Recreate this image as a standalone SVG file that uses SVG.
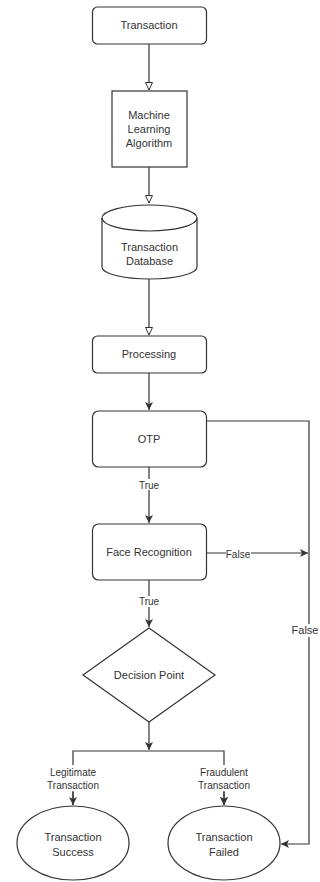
<svg xmlns="http://www.w3.org/2000/svg" width="320" height="882" viewBox="0 0 320 882">
<style>
.s{fill:#fff;stroke:#333;stroke-width:1.2}
.t{font-family:"Liberation Sans",Arial,sans-serif;font-size:11px;fill:#333;text-anchor:middle}
.l{font-family:"Liberation Sans",Arial,sans-serif;font-size:10px;fill:#333;text-anchor:middle}
.e{fill:none;stroke:#333;stroke-width:1.2}
</style>
<defs>
<marker id="h" markerWidth="10" markerHeight="10" refX="8" refY="4" orient="auto" markerUnits="userSpaceOnUse">
<path d="M0.5,0.5 L8,4 L0.5,7.5 Z" fill="#fff" stroke="#333" stroke-width="1"/>
</marker>
<marker id="f" markerWidth="10" markerHeight="10" refX="8" refY="4" orient="auto" markerUnits="userSpaceOnUse">
<path d="M0,0 L8,4 L0,8 L2,4 Z" fill="#333"/>
</marker>
</defs>
<rect width="320" height="882" fill="#fff"/>
<g id="connectors">
<path class="e" d="M149,44 V90" marker-end="url(#h)"/>
<path class="e" d="M149,167 V203" marker-end="url(#h)"/>
<path class="e" d="M149,279 V335" marker-end="url(#h)"/>
<path class="e" d="M149,373 V410" marker-end="url(#f)"/>
<path class="e" d="M149,467 V523" marker-end="url(#f)"/>
<rect x="137" y="479" width="24" height="11" fill="#fff"/>
<text class="l" x="149" y="489">True</text>
<path class="e" d="M206,553 H308" marker-end="url(#f)"/>
<rect x="226" y="549" width="25" height="11" fill="#fff"/>
<text class="l" x="238" y="558">False</text>
<path class="e" d="M149,580 V627" marker-end="url(#f)"/>
<rect x="137" y="596" width="24" height="11" fill="#fff"/>
<text class="l" x="149" y="605">True</text>
<path class="e" d="M206,421 H309 V844 H281" marker-end="url(#f)"/>
<rect x="291" y="624" width="29" height="13" fill="#fff"/>
<text class="t" x="305" y="634">False</text>
<path class="e" d="M149,722 V750" marker-end="url(#f)"/>
<path class="e" d="M73,805 V751 H224 V805" marker-end="url(#f)"/>
<path class="e" d="M73,792 V805" marker-end="url(#f)"/>
<path class="e" d="M224,792 V805" marker-end="url(#f)"/>
<rect x="43" y="765" width="60" height="26" fill="#fff"/>
<text class="l" x="73" y="776">Legitimate</text>
<text class="l" x="73" y="789">Transaction</text>
<rect x="194" y="765" width="60" height="26" fill="#fff"/>
<text class="l" x="224" y="776">Fraudulent</text>
<text class="l" x="224" y="789">Transaction</text>
</g>
<g id="transaction">
<rect class="s" x="92.5" y="7" width="114" height="37" rx="5"/>
<text class="t" x="149" y="29">Transaction</text>
</g>
<g id="ml">
<rect class="s" x="112" y="91" width="75" height="76"/>
<text class="t" x="149" y="119">Machine</text>
<text class="t" x="149" y="133">Learning</text>
<text class="t" x="149" y="147">Algorithm</text>
</g>
<g id="database">
<path class="s" d="M102,218 A47.5,13 0 0 1 197,218 V267 A47.5,12 0 0 1 102,267 Z"/>
<path class="e" d="M102,218 A47.5,13 0 0 0 197,218"/>
<text class="t" x="149.5" y="251">Transaction</text>
<text class="t" x="149.5" y="265">Database</text>
</g>
<g id="processing">
<rect class="s" x="92.5" y="336" width="114" height="37" rx="5"/>
<text class="t" x="149" y="358">Processing</text>
</g>
<g id="otp">
<rect class="s" x="92.5" y="411" width="114" height="56" rx="6"/>
<text class="t" x="149" y="443">OTP</text>
</g>
<g id="face">
<rect class="s" x="92.5" y="524" width="114" height="56" rx="6"/>
<text class="t" x="149" y="556">Face Recognition</text>
</g>
<g id="decision">
<path class="s" d="M149,628 L215,675 L149,722 L83,675 Z"/>
<text class="t" x="149" y="679">Decision Point</text>
</g>
<g id="success">
<ellipse class="s" cx="73" cy="843" rx="56" ry="37"/>
<text class="t" x="73" y="841">Transaction</text>
<text class="t" x="73" y="856">Success</text>
</g>
<g id="failed">
<ellipse class="s" cx="224" cy="843" rx="56" ry="37"/>
<text class="t" x="224" y="841">Transaction</text>
<text class="t" x="224" y="856">Failed</text>
</g>
</svg>
